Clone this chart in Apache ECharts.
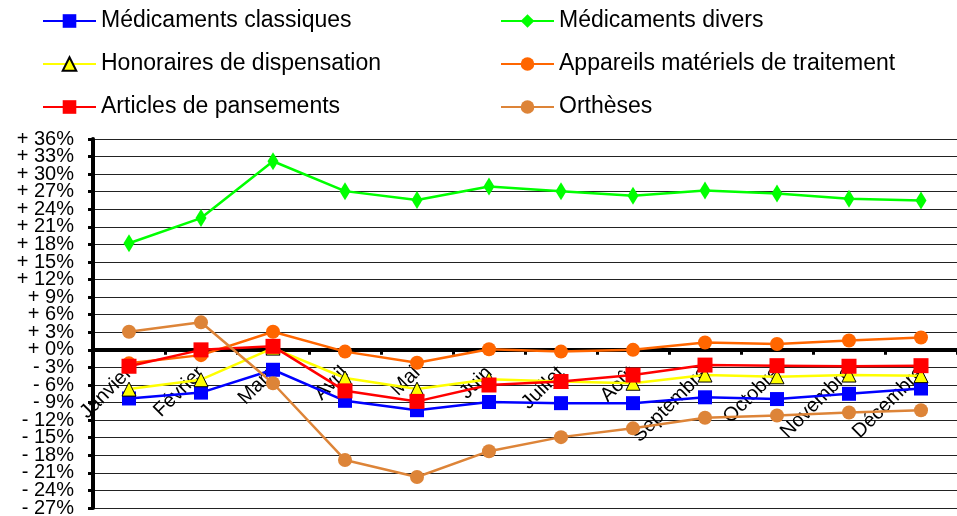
<!DOCTYPE html>
<html>
<head>
<meta charset="utf-8">
<script src="https://cdn.jsdelivr.net/npm/echarts@6/dist/echarts.min.js"></script>
<style>html,body{margin:0;padding:0;background:#fff}#c{width:957px;height:516px}</style>
</head>
<body>
<div id="c"></div>
<script>
const months = ['Janvier','Février','Mars','Avril','Mai','Juin','Juillet','Août','Septembre','Octobre','Novembre','Décembre'];
const medClassiques = [-8.3,-7.3,-3.4,-8.7,-10.3,-8.9,-9.1,-9.1,-8.1,-8.4,-7.5,-6.6];
const medDivers = [18.2,22.5,32.2,27.1,25.6,27.9,27.1,26.3,27.2,26.7,25.8,25.5];
const honoraires = [-6.7,-5.1,0.3,-4.8,-6.7,-5.0,-5.4,-5.7,-4.3,-4.6,-4.3,-4.4];
const appareils = [-2.3,-0.9,3.1,-0.3,-2.2,0.1,-0.3,0.0,1.25,1.0,1.6,2.1];
const pansements = [-2.8,0.0,0.6,-7.0,-8.8,-6.0,-5.4,-4.3,-2.6,-2.7,-2.8,-2.7];
const ortheses = [3.1,4.7,-5.7,-18.8,-21.7,-17.3,-14.9,-13.4,-11.6,-11.2,-10.7,-10.3];
const yMin = -27, yMax = 36, yStep = 3;

const FONT = '"Liberation Sans", Arial, sans-serif';
const W = 957, H = 516;
const GRID = {left: 93, right: 0, top: 139, bottom: 8};
const plotH = H - GRID.top - GRID.bottom;
// move the category axis (line, ticks, labels) up to the zero level
const zeroOffset = -((0 - yMin) / (yMax - yMin)) * plotH;

const fmtPct = v => (v >= 0 ? '+ ' + v : '- ' + Math.abs(v)) + '%';
// two overlaid value axes share the scale; each shows every other tick label so none get hidden
const isEven = v => Math.round((v - yMin) / yStep) % 2 === 0;

const chart = echarts.init(document.getElementById('c'), null, {renderer: 'canvas'});

function mk(name, data, color, symbol, size, extra) {
  return Object.assign({
    name: name, type: 'line', data: data,
    symbol: symbol, symbolSize: size,
    lineStyle: {color: color, width: 2.5},
    itemStyle: {color: color},
    animation: false
  }, extra || {});
}

const legendCommon = {
  orient: 'vertical', itemWidth: 53, itemHeight: 17, itemGap: 19, padding: 0,
  textStyle: {fontSize: 23, fontFamily: FONT, color: '#000', lineHeight: 24},
  top: 9
};

function yAx(even, main) {
  return {
    type: 'value', min: yMin, max: yMax, interval: yStep, position: 'left',
    axisLine: {show: main, lineStyle: {color: '#000', width: 4}},
    axisTick: {show: main, length: 5, lineStyle: {color: '#000', width: 3}},
    splitLine: {show: main, lineStyle: {color: '#222', width: 1}},
    axisLabel: {fontSize: 20, fontFamily: FONT, color: '#000', margin: 19,
      showMinLabel: true, showMaxLabel: true, hideOverlap: false,
      formatter: v => (isEven(v) === even ? fmtPct(v) : '')}
  };
}

chart.setOption({
  animation: false,
  backgroundColor: '#fff',
  legend: [
    Object.assign({left: 42, data: ['Médicaments classiques','Honoraires de dispensation','Articles de pansements']}, legendCommon),
    Object.assign({left: 500, data: ['Médicaments divers','Appareils matériels de traitement','Orthèses']}, legendCommon)
  ],
  grid: Object.assign({outerBoundsMode: 'none', containLabel: false}, GRID),
  xAxis: {
    type: 'category', data: months, boundaryGap: true,
    offset: zeroOffset,
    axisLine: {onZero: false, lineStyle: {color: '#000', width: 4}},
    axisTick: {show: true, length: 5, lineStyle: {color: '#000', width: 3}},
    axisLabel: {rotate: 45, fontSize: 20, fontFamily: FONT, color: '#000', margin: 20, interval: 0},
    z: 1
  },
  yAxis: [yAx(true, true), yAx(false, false)],
  series: [
    mk('Médicaments classiques', medClassiques, '#0000FF', 'rect', 14),
    mk('Médicaments divers', medDivers, '#00FF00', 'diamond', [11,18]),
    mk('Honoraires de dispensation', honoraires, '#FFFF00', 'triangle', 14, {itemStyle: {color: '#FFFF00', borderColor: '#000', borderWidth: 1}}),
    mk('Appareils matériels de traitement', appareils, '#FF6600', 'circle', 14),
    mk('Articles de pansements', pansements, '#FF0000', 'rect', 15),
    mk('Orthèses', ortheses, '#DD8438', 'circle', 14)
  ]
});
</script>
</body>
</html>
